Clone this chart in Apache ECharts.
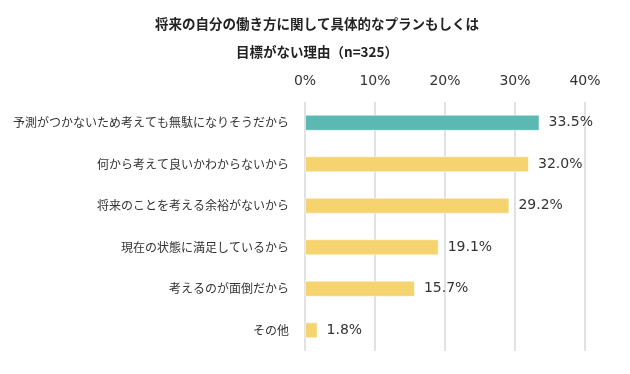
<!DOCTYPE html>
<html><head><meta charset="utf-8">
<script src="https://cdn.jsdelivr.net/npm/echarts@6/dist/echarts.min.js"></script>
<style>html,body{margin:0;padding:0;background:#fff}#c{width:630px;height:374px}</style>
</head><body><div id="c"></div>
<script>
const titleLines = ['将来の自分の働き方に関して具体的なプランもしくは', '目標がない理由（n=325）'];
const categories = ['予測がつかないため考えても無駄になりそうだから','何から考えて良いかわからないから','将来のことを考える余裕がないから','現在の状態に満足しているから','考えるのが面倒だから','その他'];
const values = [33.5, 32.0, 29.2, 19.1, 15.7, 1.8];
const tickValues = [0, 10, 20, 30, 40];
const highlightColor = '#5BB8B2';
const baseColor = '#F5D470';

const chart = echarts.init(document.getElementById('c'), null, {renderer:'canvas'});
chart.setOption({
  animation:false,
  title:{
    text: titleLines.join('\n'),
    left: 312, textAlign:'center', top: 5,
    textStyle:{fontFamily:'"Noto Sans CJK JP"', fontSize:13.5, fontWeight:'bold', color:'#222', lineHeight:28}
  },
  grid:{left:305, right:45, top:102, bottom:23, containLabel:false},
  xAxis:{
    type:'value', position:'top', min:tickValues[0], max:tickValues[tickValues.length-1], interval:10,
    axisLine:{show:false}, axisTick:{show:false},
    axisLabel:{formatter:v=>v+'%', fontFamily:'"DejaVu Sans"', fontSize:14, color:'#333', margin:14},
    splitLine:{show:true, lineStyle:{color:'#D9D9D9', width:1.5}}
  },
  yAxis:{
    type:'category', inverse:true, data:categories,
    axisLine:{show:false}, axisTick:{show:false},
    axisLabel:{fontFamily:'"Noto Sans CJK JP"', fontSize:12, color:'#333', margin:16}
  },
  series:[{
    type:'bar', barWidth:16,
    data: values.map((v,i)=>({value:v, itemStyle:{color: i===0?highlightColor:baseColor}})),
    itemStyle:{borderColor:'rgba(255,255,255,0.5)', borderWidth:1},
    label:{show:true, position:'right', distance:9, formatter:p=>p.value.toFixed(1)+'%', fontFamily:'"DejaVu Sans"', fontSize:14, color:'#333'}
  }]
});
</script></body></html>
